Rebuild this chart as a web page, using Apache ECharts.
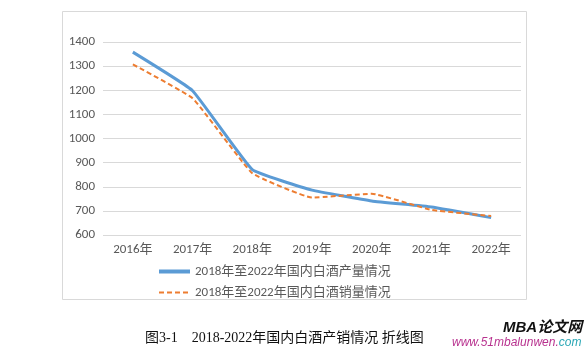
<!DOCTYPE html>
<html>
<head>
<meta charset="utf-8">
<script src="https://cdn.jsdelivr.net/npm/echarts@6/dist/echarts.min.js"></script>
<style>
html,body{margin:0;padding:0;background:#fff;}
#main{width:585px;height:351px;}
</style>
</head>
<body>
<div id="main"></div>
<script>
// 年份
var years = ['2016年', '2017年', '2018年', '2019年', '2020年', '2021年', '2022年'];
// 产量
var output = [1358, 1198, 871, 786, 741, 716, 672];
// 销量
var sales = [1307, 1167, 856, 755, 771, 704, 679];
var seriesNames = ['2018年至2022年国内白酒产量情况', '2018年至2022年国内白酒销量情况'];

var cjk = 'Calibri, "Liberation Sans", "Noto Sans CJK SC", sans-serif';

var myChart = echarts.init(document.getElementById('main'));
var option = {
	backgroundColor: '#fff',
	animation: false,
	grid: { left: 103, right: 64, top: 42, bottom: 116 },
	legend: {
		orient: 'vertical',
		left: 152, top: 260,
		itemWidth: 31, itemHeight: 4, itemGap: 8,
		itemStyle: { opacity: 0 },
		textStyle: { color: '#595959', fontSize: 13, fontFamily: cjk },
		data: [
			{ name: seriesNames[0], lineStyle: { width: 4 } },
			{ name: seriesNames[1] }
		]
	},
	xAxis: {
		type: 'category',
		data: years,
		boundaryGap: true,
		axisLine: { show: false },
		axisTick: { show: false },
		axisLabel: { color: '#595959', fontSize: 13, fontFamily: cjk, margin: 8 }
	},
	yAxis: {
		type: 'value',
		min: 600, max: 1400, interval: 100,
		axisLine: { show: false },
		axisTick: { show: false },
		axisLabel: {
			color: '#595959', fontSize: 13, fontFamily: cjk, margin: 8,
			formatter: function (v) { return String(v); }
		},
		splitLine: { lineStyle: { color: '#d9d9d9', width: 1 } }
	},
	series: [
		{
			name: seriesNames[0], type: 'line', data: output,
			symbol: 'none', smooth: 0.1,
			lineStyle: { color: '#5b9bd5', width: 3 },
			itemStyle: { color: '#5b9bd5' }
		},
		{
			name: seriesNames[1], type: 'line', data: sales,
			symbol: 'none', smooth: 0.1,
			lineStyle: { color: '#ed7d31', width: 2, type: [5, 3] },
			itemStyle: { color: '#ed7d31' }
		}
	],
	graphic: [
		{
			type: 'rect', silent: true, z: -1,
			shape: { x: 62.5, y: 11.5, width: 464, height: 288 },
			style: { fill: 'none', stroke: '#d9d9d9', lineWidth: 1 }
		},
		{
			type: 'text', left: 145, top: 331,
			style: {
				text: '图3-1    2018-2022年国内白酒产销情况 折线图',
				fill: '#111', fontSize: 14, fontFamily: '"Liberation Serif", "Noto Sans CJK SC", serif'
			}
		},
		{
			type: 'text', left: 503, top: 320,
			style: {
				text: 'MBA论文网', fill: '#111', fontSize: 15,
				fontWeight: 'bold', fontStyle: 'italic', fontFamily: '"Liberation Sans", "Noto Sans CJK SC", sans-serif'
			}
		},
		{
			type: 'text', left: 452, top: 337,
			style: {
				rich: {
					a: { fill: '#b8328f', fontSize: 12, fontStyle: 'italic', fontFamily: '"Liberation Sans", sans-serif' },
					b: { fill: '#2aa7b5', fontSize: 12, fontStyle: 'italic', fontFamily: '"Liberation Sans", sans-serif' }
				},
				text: '{a|www.51mbalunwen.}{b|com}'
			}
		}
	]
};
myChart.setOption(option);
</script>
</body>
</html>
